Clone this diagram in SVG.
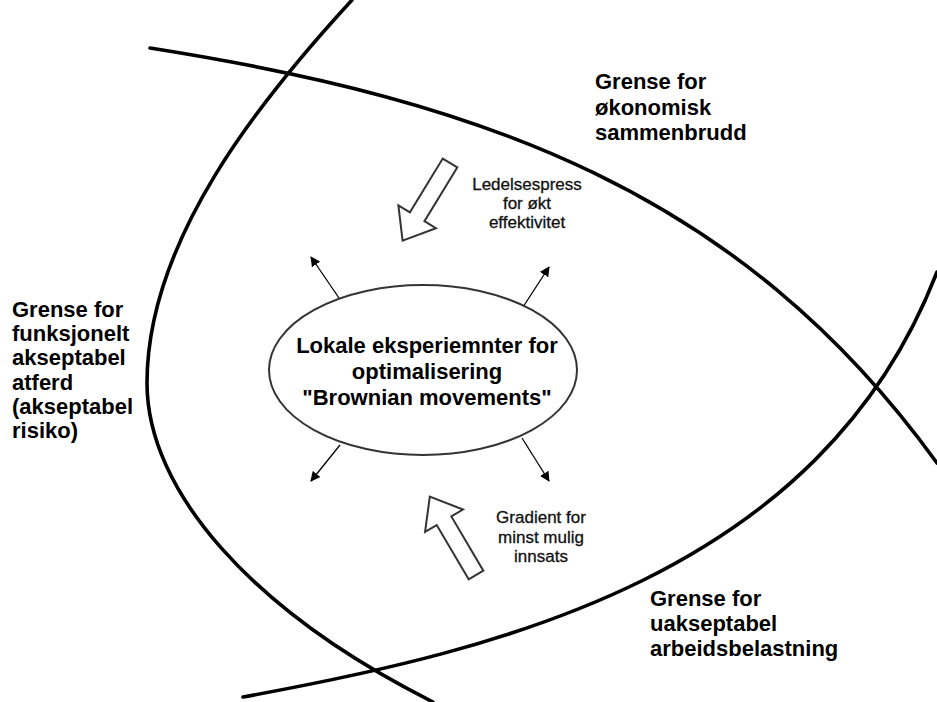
<svg xmlns="http://www.w3.org/2000/svg" width="937" height="702" viewBox="0 0 937 702">
  <style>
    .boundary { fill: none; stroke: #000; stroke-width: 3.6; stroke-linecap: round; }
    .label { font-family: "Liberation Sans", Arial, sans-serif; font-weight: bold; font-size: 22px; fill: #000; }
    .note { font-family: "Liberation Sans", Arial, sans-serif; font-size: 17px; fill: #111; stroke: #111; stroke-width: 0.3; text-anchor: middle; }
    .center { font-family: "Liberation Sans", Arial, sans-serif; font-weight: bold; font-size: 22px; fill: #000; text-anchor: middle; }
    .drift { stroke: #000; stroke-width: 1.3; fill: none; marker-end: url(#tip); }
    .pressure { fill: #fff; stroke: #333; stroke-width: 2; stroke-linejoin: miter; }
  </style>
  <defs>
    <marker id="tip" viewBox="0 0 10 10" refX="9" refY="5" markerWidth="10" markerHeight="10" markerUnits="userSpaceOnUse" orient="auto">
      <path d="M0,0 L10,5 L0,10 z" fill="#000"/>
    </marker>
    <!-- hollow block arrow pointing along +x, tail at origin -->
    <polygon id="blockArrow" points="0,-8.5 63,-8.5 63,-22 91,0 63,22 63,8.5 0,8.5"/>
  </defs>
  <rect width="937" height="702" fill="#fff"/>

  <g id="boundaries">
    <!-- economic breakdown boundary -->
    <path id="b-economic" class="boundary" d="M150,48 C480,100 740,190 937,463"/>
    <!-- functionally acceptable behaviour boundary -->
    <path id="b-functional" class="boundary" d="M352,0 C260,100 147,240 147,383 C147,490 250,610 433,702"/>
    <!-- unacceptable workload boundary -->
    <path id="b-workload" class="boundary" d="M243,697 C500,650 820,575 937,272"/>
  </g>

  <g id="connectors">
    <line class="drift" x1="339" y1="298" x2="311" y2="257"/>
    <line class="drift" x1="523" y1="307" x2="549" y2="267"/>
    <line class="drift" x1="340" y1="445" x2="311" y2="481"/>
    <line class="drift" x1="522" y1="438" x2="549" y2="481"/>
  </g>

  <g id="node-local">
    <ellipse cx="423" cy="370" rx="154" ry="85" fill="#fff" stroke="#333" stroke-width="2"/>
    <text class="center" x="427" y="353">Lokale eksperiemnter for</text>
    <text class="center" x="427" y="379">optimalisering</text>
    <text class="center" x="427" y="405">"Brownian movements"</text>
  </g>

  <g id="node-management-pressure">
    <use href="#blockArrow" class="pressure" transform="translate(450,163) rotate(121.4)"/>
    <text class="note" x="527" y="190">Ledelsespress</text>
    <text class="note" x="527" y="209">for økt</text>
    <text class="note" x="527" y="228">effektivitet</text>
  </g>

  <g id="node-least-effort">
    <use href="#blockArrow" class="pressure" transform="translate(476,575) rotate(-120.5)"/>
    <text class="note" x="541" y="523">Gradient for</text>
    <text class="note" x="541" y="543">minst mulig</text>
    <text class="note" x="541" y="562">innsats</text>
  </g>

  <g id="label-economic">
    <text class="label" x="595" y="89">Grense for</text>
    <text class="label" x="595" y="115">økonomisk</text>
    <text class="label" x="595" y="140">sammenbrudd</text>
  </g>

  <g id="label-functional">
    <text class="label" x="12" y="317">Grense for</text>
    <text class="label" x="12" y="341">funksjonelt</text>
    <text class="label" x="12" y="365">akseptabel</text>
    <text class="label" x="12" y="390">atferd</text>
    <text class="label" x="12" y="414">(akseptabel</text>
    <text class="label" x="12" y="438">risiko)</text>
  </g>

  <g id="label-workload">
    <text class="label" x="650" y="606">Grense for</text>
    <text class="label" x="650" y="631">uakseptabel</text>
    <text class="label" x="650" y="656">arbeidsbelastning</text>
  </g>
</svg>
